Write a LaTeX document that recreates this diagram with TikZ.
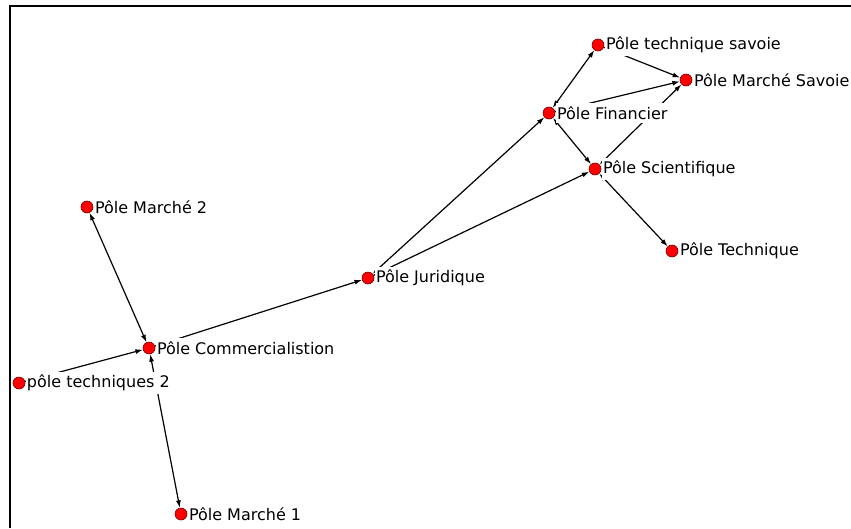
\documentclass[tikz,border=0pt]{standalone}
\usepackage{fontspec}
\setmainfont{DejaVu Sans}
\usetikzlibrary{arrows.meta,backgrounds}
\tikzset{>={Latex[length=7.5pt,width=5pt]}}
\tikzset{
  pole/.style={circle,fill=red,draw=red!45!black,line width=0.6pt,minimum size=12pt,inner sep=0pt},
  lbl/.style={fill=white,inner xsep=1.5pt,inner ysep=3pt,font=\fontsize{16}{19}\selectfont},
  link/.style={line width=1.2pt},
}

\begin{document}
\begin{tikzpicture}[x=1pt,y=-1pt]
\useasboundingbox (0,0) rectangle (851,528);
\draw[line width=2pt] (10,528) -- (10,6) -- (851,6);
% poles
\node[pole,label={[lbl]right:Pôle technique savoie}] (tsav) at (598,45) {};
\node[pole,label={[lbl]right:Pôle Marché Savoie}] (msav) at (686,80) {};
\node[pole,label={[lbl]right:Pôle Financier}] (fin) at (549,113) {};
\node[pole,label={[lbl]right:Pôle Scientifique}] (sci) at (595,169) {};
\node[pole,label={[lbl]right:Pôle Technique}] (tec) at (672,251) {};
\node[pole,label={[lbl]right:Pôle Juridique}] (jur) at (368,278) {};
\node[pole,label={[lbl]right:Pôle Marché 2}] (m2) at (87,207) {};
\node[pole,label={[lbl]right:Pôle Commercialistion}] (com) at (149,348) {};
\node[pole,label={[lbl]right:pôle techniques 2}] (t2) at (19,383) {};
\node[pole,label={[lbl]right:Pôle Marché 1}] (m1) at (181,514) {};
% links
\begin{scope}[on background layer]
\draw[link,<->] (m2) -- (com);
\draw[link,->] (t2) -- (com);
\draw[link,<->] (com) -- (m1);
\draw[link,->] (com) -- (jur);
\draw[link,<->] (jur) -- (fin);
\draw[link,->] (jur) -- (sci);
\draw[link,<->] (fin) -- (tsav);
\draw[link,<->] (fin) -- (sci);
\draw[link,->] (fin) -- (msav);
\draw[link,->] (tsav) -- (msav);
\draw[link,<->] (sci) -- (msav);
\draw[link,<->] (sci) -- (tec);
\end{scope}
\end{tikzpicture}
\end{document}
